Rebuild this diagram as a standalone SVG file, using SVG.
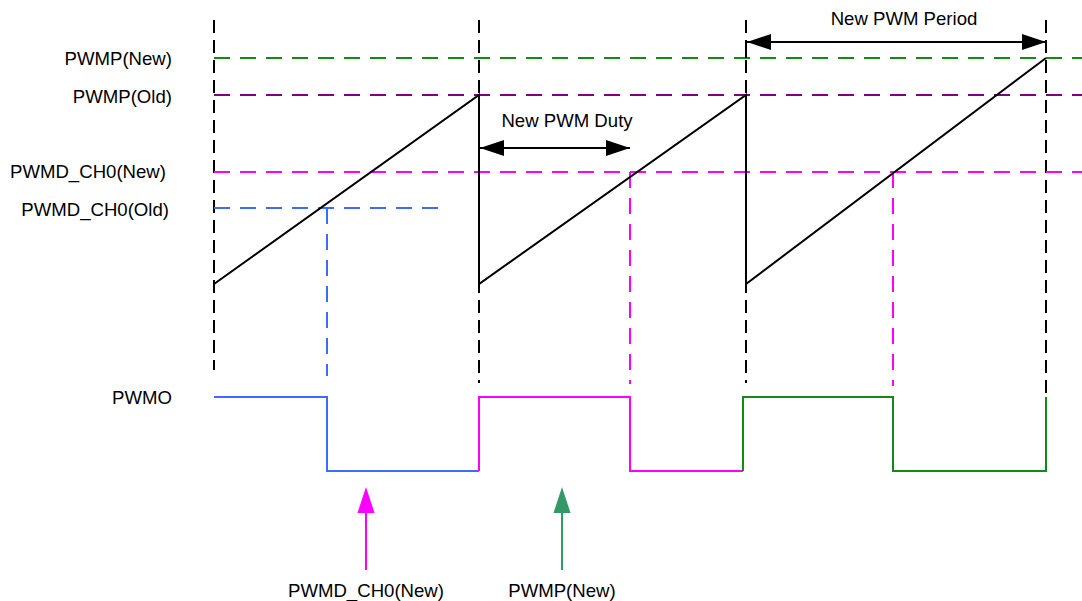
<svg xmlns="http://www.w3.org/2000/svg" width="1082" height="601" viewBox="0 0 1082 601">
<style>
text{font-family:"Liberation Sans",Arial,sans-serif;font-size:18.6px;fill:#000;dominant-baseline:central}
.vd{stroke:#000;stroke-width:2;stroke-dasharray:13 7;fill:none}
.hd{stroke-width:2;stroke-dasharray:16 10;fill:none}
.solid{stroke-width:2;fill:none}
</style>
<defs>
<marker id="ah" viewBox="0 0 24 16" refX="24" refY="8" markerWidth="24" markerHeight="16" markerUnits="userSpaceOnUse" orient="auto-start-reverse"><path d="M0,0 L24,8 L0,16 Z" fill="#000"/></marker>
</defs>
<g id="labels">
<text x="172" y="58" text-anchor="end">PWMP(New)</text>
<text x="172" y="96" text-anchor="end">PWMP(Old)</text>
<text x="166" y="171" text-anchor="end">PWMD_CH0(New)</text>
<text x="169" y="209" text-anchor="end">PWMD_CH0(Old)</text>
<text x="172" y="397" text-anchor="end">PWMO</text>
</g>
<g id="gridlines">
<line class="vd" x1="214" y1="20" x2="214" y2="370"/>
<line class="vd" x1="479" y1="20" x2="479" y2="383"/>
<line class="vd" x1="746" y1="20" x2="746" y2="383"/>
<line class="vd" x1="1046" y1="20" x2="1046" y2="395"/>
<line class="hd" stroke="#138a13" x1="214" y1="58" x2="1082" y2="58"/>
<line class="hd" stroke="#800080" x1="214" y1="95" x2="1082" y2="95"/>
<line class="hd" stroke="#ff00ff" x1="214" y1="172" x2="1082" y2="172"/>
<line class="hd" stroke="#3d6bff" x1="214" y1="208" x2="442" y2="208"/>
<line class="hd" stroke="#3d6bff" x1="327" y1="208" x2="327" y2="376"/>
<line class="hd" stroke="#ff00ff" x1="630" y1="172" x2="630" y2="384"/>
<line class="hd" stroke="#ff00ff" x1="893" y1="172" x2="893" y2="386"/>
</g>
<g id="sawtooth">
<path class="solid" stroke="#000" d="M214,284 L479,95 L479,284 L746,95 L746,284 L1046,58"/>
<line class="solid" stroke="#000" x1="746" y1="42" x2="746" y2="58"/>
</g>
<g id="pwmo">
<path class="solid" stroke="#3d6bff" d="M214,397 L327,397 L327,471 L479,471"/>
<path class="solid" stroke="#ff00ff" d="M479,471 L479,397 L630,397 L630,471 L743,471"/>
<path class="solid" stroke="#138a13" d="M743,471 L743,397 L893,397 L893,471 L1046,471 L1046,397"/>
</g>
<g id="connectors">
<line class="solid" stroke="#000" x1="480" y1="148" x2="630" y2="148" marker-start="url(#ah)" marker-end="url(#ah)"/>
<line class="solid" stroke="#000" x1="747" y1="42" x2="1046" y2="42" marker-start="url(#ah)" marker-end="url(#ah)"/>
<line class="solid" stroke="#ff00ff" x1="366" y1="570" x2="366" y2="500"/>
<path d="M366,487 L374.5,513 L357.5,513 Z" fill="#ff00ff"/>
<line class="solid" stroke="#339966" x1="562" y1="570" x2="562" y2="500"/>
<path d="M562,487 L570.5,513 L553.5,513 Z" fill="#339966"/>
</g>
<g id="annotations">
<text x="567" y="120" text-anchor="middle">New PWM Duty</text>
<text x="904" y="18" text-anchor="middle">New PWM Period</text>
<text x="366" y="590" text-anchor="middle">PWMD_CH0(New)</text>
<text x="562" y="590" text-anchor="middle">PWMP(New)</text>
</g>
</svg>
